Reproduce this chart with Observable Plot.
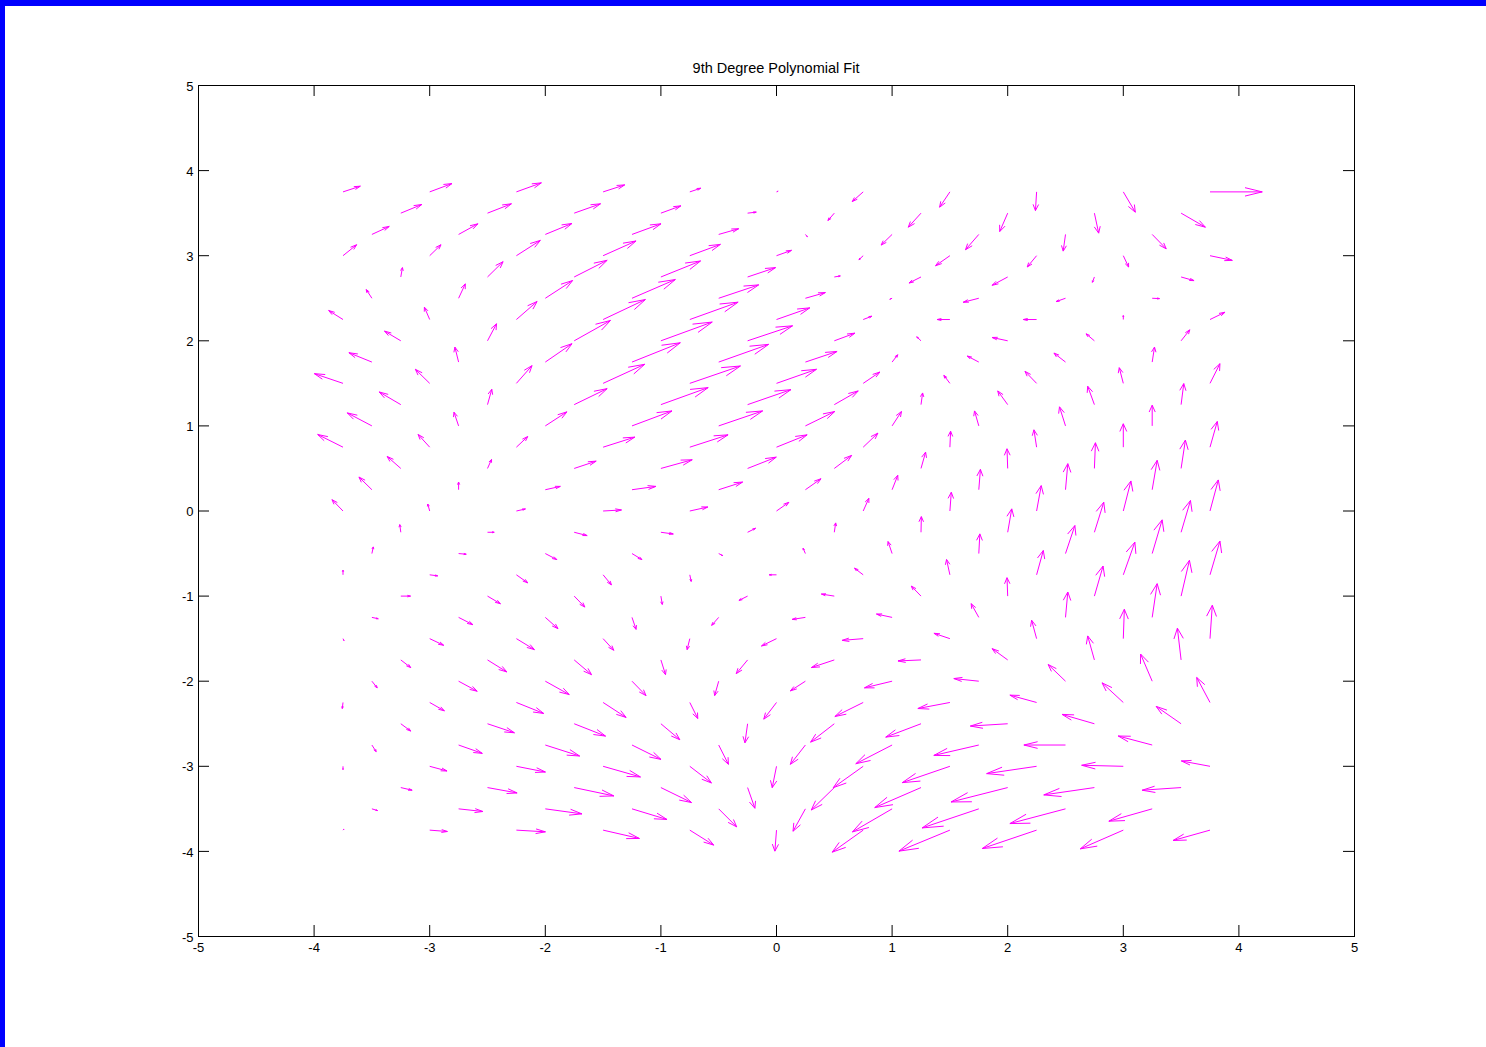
<!DOCTYPE html>
<html>
<head>
<meta charset="utf-8">
<script src="https://cdn.jsdelivr.net/npm/d3@7"></script>
<script src="https://cdn.jsdelivr.net/npm/@observablehq/plot@0.6"></script>
<style>
  html, body { margin: 0; padding: 0; background: #ffffff; }
  body { width: 1486px; height: 1047px; position: relative; overflow: hidden; font-family: "Liberation Sans", Arial, Helvetica, sans-serif; }
  .bar { position: absolute; background: #0000ff; }
  #title { position: absolute; left: 0; top: 60px; width: 1552px; text-align: center; font-size: 14.5px; line-height: 17px; color: #000; }
  #chart { position: absolute; left: 0; top: 80px; }
</style>
</head>
<body>
<div class="bar" style="left:0;top:0;width:1486px;height:6px;"></div>
<div class="bar" style="left:0;top:0;width:5px;height:1047px;"></div>
<div id="title">9th Degree Polynomial Fit</div>
<div id="chart"></div>
<script>
// Grid rows (y) and the three staggered sets of x positions
const yRows = [3.75, 3.5, 3.25, 3, 2.75, 2.5, 2.25, 2, 1.75, 1.5, 1.25, 1, 0.75, 0.5, 0.25, 0,
  -0.25, -0.5, -0.75, -1, -1.25, -1.5, -1.75, -2, -2.25, -2.5, -2.75, -3, -3.25, -3.5, -3.75];
const xA = [-3.75, -3, -2.25, -1.5, -0.75, 0, 0.75, 1.5, 2.25, 3, 3.75];
const xB = [-3.25, -2.5, -1.75, -1, -0.25, 0.5, 1.25, 2, 2.75, 3.5];
const xC = [-3.5, -2.75, -2, -1.25, -0.5, 0.25, 1, 1.75, 2.5, 3.25];

// Horizontal components (one array per row)
const U = [
 [0.15,0.193,0.216,0.187,0.095,0.014,-0.095,-0.089,-0.01,0.104,0.452],
 [0.182,0.207,0.228,0.173,0.075,-0.055,-0.11,-0.069,0.037,0.21],
 [0.15,0.167,0.231,0.251,0.173,0.017,-0.095,-0.115,-0.02,0.121],
 [0.118,0.098,0.207,0.285,0.265,0.13,-0.037,-0.124,-0.081,0.046,0.193],
 [0.014,0.135,0.285,0.343,0.242,0.052,-0.104,-0.135,-0.017,0.112],
 [-0.049,0.058,0.236,0.375,0.346,0.173,-0.02,-0.135,-0.081,0.063],
 [-0.124,-0.046,0.179,0.366,0.418,0.288,0.075,-0.11,-0.115,0,0.13],
 [-0.141,0.078,0.314,0.444,0.389,0.179,-0.037,-0.135,-0.072,0.075],
 [-0.199,-0.032,0.231,0.418,0.432,0.274,0.049,-0.1,-0.1,0.02],
 [-0.248,-0.124,0.135,0.36,0.438,0.346,0.144,-0.052,-0.1,-0.035,0.086],
 [-0.187,0.037,0.285,0.409,0.375,0.207,0.014,-0.086,-0.058,0.023],
 [-0.213,-0.04,0.187,0.346,0.38,0.254,0.081,-0.037,-0.052,0],
 [-0.219,-0.1,0.098,0.274,0.331,0.265,0.127,0.006,-0.023,0,0.063],
 [-0.118,0.035,0.19,0.271,0.248,0.15,0.04,-0.006,0.009,0.037],
 [-0.112,0,0.13,0.207,0.207,0.135,0.049,0.014,0.02,0.043],
 [-0.095,-0.017,0.078,0.159,0.156,0.107,0.049,0.012,0.04,0.066,0.072],
 [-0.009,0.058,0.112,0.107,0.069,0.012,0.003,0.035,0.081,0.081],
 [0.012,0.066,0.1,0.086,0.035,-0.02,-0.035,0.009,0.081,0.086],
 [0,0.069,0.098,0.072,0.012,-0.063,-0.075,-0.029,0.058,0.1,0.086],
 [0.084,0.112,0.092,0.012,-0.075,-0.112,-0.084,-0.006,0.075,0.072],
 [0.055,0.124,0.11,0.035,-0.061,-0.115,-0.135,-0.066,0.02,0.043],
 [0.009,0.121,0.156,0.092,-0.023,-0.13,-0.182,-0.138,-0.043,0.009,0.02],
 [0.086,0.167,0.15,0.04,-0.098,-0.199,-0.199,-0.135,-0.058,-0.032],
 [0.046,0.161,0.207,0.121,-0.035,-0.13,-0.239,-0.216,-0.15,-0.1],
 [-0.006,0.127,0.236,0.199,0.069,-0.11,-0.245,-0.277,-0.231,-0.184,-0.115],
 [0.086,0.233,0.271,0.164,-0.023,-0.205,-0.305,-0.323,-0.28,-0.216],
 [0.037,0.205,0.297,0.251,0.084,-0.13,-0.314,-0.389,-0.36,-0.294],
 [0,0.15,0.251,0.323,0.187,-0.037,-0.259,-0.412,-0.432,-0.36,-0.248],
 [0.098,0.256,0.343,0.265,0.063,-0.199,-0.4,-0.49,-0.438,-0.337],
 [0.049,0.21,0.317,0.303,0.156,-0.107,-0.343,-0.49,-0.481,-0.375],
 [0.009,0.153,0.251,0.314,0.207,-0.014,-0.268,-0.441,-0.47,-0.372,-0.32]
];

// Vertical components (one array per row)
const V = [
 [0.067,0.098,0.106,0.082,0.043,0.008,-0.114,-0.18,-0.22,-0.239,0],
 [0.102,0.11,0.11,0.086,0.012,-0.086,-0.165,-0.216,-0.235,-0.165],
 [0.094,0.125,0.129,0.125,0.067,-0.027,-0.125,-0.18,-0.196,-0.169],
 [0.129,0.129,0.18,0.173,0.133,0.063,-0.047,-0.118,-0.133,-0.133,-0.055],
 [0.11,0.18,0.196,0.188,0.11,0.012,-0.071,-0.098,-0.063,-0.043],
 [0.102,0.169,0.208,0.22,0.157,0.067,-0.012,-0.047,-0.039,-0.004],
 [0.106,0.145,0.212,0.235,0.204,0.137,0.039,0,0,0.047,0.086],
 [0.114,0.2,0.239,0.22,0.176,0.09,0.047,0.039,0.082,0.129],
 [0.11,0.176,0.216,0.227,0.208,0.125,0.086,0.071,0.106,0.176],
 [0.114,0.165,0.208,0.224,0.204,0.165,0.133,0.094,0.141,0.184,0.231],
 [0.149,0.18,0.188,0.2,0.176,0.161,0.137,0.161,0.216,0.247],
 [0.153,0.161,0.165,0.176,0.176,0.169,0.169,0.176,0.224,0.243],
 [0.149,0.149,0.125,0.118,0.145,0.145,0.165,0.188,0.204,0.275,0.302],
 [0.141,0.106,0.086,0.102,0.133,0.153,0.192,0.231,0.302,0.333],
 [0.149,0.09,0.039,0.039,0.09,0.129,0.169,0.239,0.306,0.345],
 [0.133,0.082,0.024,0.012,0.047,0.102,0.149,0.22,0.298,0.353,0.365],
 [0.09,0,-0.039,-0.02,0.047,0.11,0.184,0.275,0.353,0.373],
 [0.078,-0.008,-0.071,-0.071,-0.024,0.063,0.141,0.231,0.329,0.396],
 [0.055,-0.012,-0.094,-0.118,-0.078,0,0.078,0.18,0.286,0.384,0.396],
 [0,-0.09,-0.129,-0.098,-0.051,0.024,0.118,0.216,0.353,0.42],
 [-0.016,-0.086,-0.133,-0.141,-0.094,-0.024,0.039,0.161,0.298,0.396],
 [-0.024,-0.078,-0.129,-0.137,-0.129,-0.086,-0.02,0.063,0.216,0.345,0.392],
 [-0.09,-0.141,-0.173,-0.173,-0.161,-0.09,-0.012,0.133,0.282,0.373],
 [-0.078,-0.118,-0.157,-0.169,-0.169,-0.114,-0.078,0.031,0.196,0.318],
 [-0.071,-0.098,-0.129,-0.176,-0.188,-0.196,-0.165,-0.071,0.086,0.231,0.294],
 [-0.086,-0.106,-0.145,-0.188,-0.224,-0.216,-0.157,-0.027,0.11,0.204],
 [-0.078,-0.098,-0.129,-0.169,-0.227,-0.227,-0.22,-0.122,0,0.106],
 [-0.039,-0.055,-0.067,-0.125,-0.196,-0.251,-0.251,-0.192,-0.086,0.012,0.063],
 [-0.031,-0.063,-0.098,-0.176,-0.243,-0.263,-0.235,-0.169,-0.086,-0.031],
 [-0.02,-0.031,-0.059,-0.125,-0.212,-0.263,-0.271,-0.224,-0.173,-0.145],
 [0.012,-0.016,-0.02,-0.098,-0.176,-0.247,-0.259,-0.247,-0.216,-0.22,-0.122]
];

const axisTicks = [-5, -4, -3, -2, -1, 0, 1, 2, 3, 4, 5];

// Build the quiver table: shaft + two barbs per vector (MATLAB-style heads)
const alpha = 0.33, beta = 0.33;
const vectors = [];
yRows.forEach((y, i) => {
  const xs = [xA, xB, xC][i % 3];
  xs.forEach((x, j) => vectors.push({x, y, u: U[i][j], v: V[i][j]}));
});
const segs = vectors.flatMap(({x, y, u, v}) => {
  const tx = x + u, ty = y + v;
  return [
    {x1: x, y1: y, x2: tx, y2: ty},
    {x1: tx - alpha * (u + beta * v), y1: ty - alpha * (v - beta * u), x2: tx, y2: ty},
    {x1: tx - alpha * (u - beta * v), y1: ty - alpha * (v + beta * u), x2: tx, y2: ty}
  ];
});

// SVG placed at top 80px; frame spans x 198..1354, y 85..936 on the page
const W = 1486, H = 967;
const mL = 198, mR = 132, mT = 5, mB = 111;
const fw = W - mL - mR, fh = H - mT - mB;
const tl = 11;

const chart = Plot.plot({
  width: W, height: H,
  marginLeft: mL, marginRight: mR, marginTop: mT, marginBottom: mB,
  x: {domain: [-5, 5]},
  y: {domain: [-5, 5]},
  style: {fontFamily: "'Liberation Sans', Arial, Helvetica, sans-serif", fontSize: "13px", color: "#000", background: "transparent", overflow: "visible"},
  marks: [
    Plot.link(segs, {x1: "x1", y1: "y1", x2: "x2", y2: "y2", stroke: "#ff00ff", strokeWidth: 1}),
    Plot.tickX(axisTicks, {x: d => d, stroke: "#000", insetTop: fh - tl}),
    Plot.tickX(axisTicks, {x: d => d, stroke: "#000", insetBottom: fh - tl}),
    Plot.tickY(axisTicks, {y: d => d, stroke: "#000", insetRight: fw - tl}),
    Plot.tickY(axisTicks, {y: d => d, stroke: "#000", insetLeft: fw - tl}),
    Plot.frame({stroke: "#000"}),
    Plot.axisX({ticks: axisTicks, tickSize: 0, tickPadding: 6, tickFormat: d => String(d), anchor: "bottom", label: null}),
    Plot.axisY({ticks: axisTicks, tickSize: 0, tickPadding: 5, tickFormat: d => String(d), anchor: "left", label: null, dy: 1})
  ]
});
chart.style.overflow = "visible";
document.getElementById("chart").appendChild(chart);
</script>
</body>
</html>
